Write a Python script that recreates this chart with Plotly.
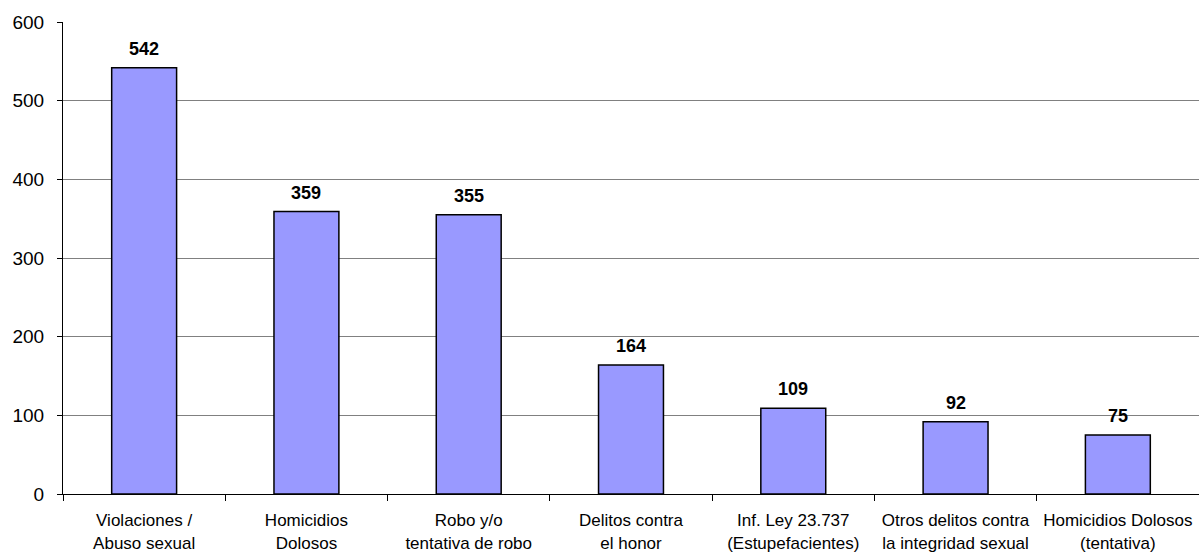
import plotly.graph_objects as go

categories = [
    "Violaciones /<br>Abuso sexual",
    "Homicidios<br>Dolosos",
    "Robo y/o<br>tentativa de robo",
    "Delitos contra<br>el honor",
    "Inf. Ley 23.737<br>(Estupefacientes)",
    "Otros delitos contra<br>la integridad sexual",
    "Homicidios Dolosos<br>(tentativa)",
]
values = [542, 359, 355, 164, 109, 92, 75]
y_ticks = [0, 100, 200, 300, 400, 500, 600]

FONT = "Liberation Sans, Arial, sans-serif"

fig = go.Figure()
fig.add_trace(go.Bar(
    x=categories,
    y=values,
    marker=dict(color="#9999FF", line=dict(color="#000000", width=1.5)),
    width=0.4,
    hoverinfo="skip",
))

for c, v in zip(categories, values):
    fig.add_annotation(
        x=c, y=v, text=f"<b>{v}</b>", showarrow=False,
        yanchor="bottom", yshift=7,
        font=dict(family=FONT, size=18, color="#000000"),
    )

fig.update_layout(
    width=1199, height=555,
    margin=dict(l=63, r=0, t=22, b=61, autoexpand=False),
    paper_bgcolor="#FFFFFF", plot_bgcolor="#FFFFFF",
    showlegend=False,
    font=dict(family=FONT, color="#000000"),
)
fig.update_xaxes(
    type="category",
    tickson="boundaries",
    ticks="outside", ticklen=6, tickcolor="#000000", tickwidth=1,
    showline=True, linecolor="#000000", linewidth=1,
    showgrid=False,
    tickangle=0,
    tickfont=dict(family=FONT, size=17, color="#000000"),
    ticklabelstandoff=11,
    automargin=False,
)
fig.update_yaxes(
    range=[0, 600],
    tickvals=y_ticks,
    ticks="outside", ticklen=5, tickcolor="#000000", tickwidth=1,
    showline=True, linecolor="#000000", linewidth=1,
    showgrid=True, gridcolor="#808080", gridwidth=1,
    zeroline=False,
    tickfont=dict(family=FONT, size=19, color="#000000"),
    ticklabelstandoff=9,
    automargin=False,
)

fig.write_html(
    "out.html",
    config={"displayModeBar": False},
    post_script="document.body.style.margin='0';document.body.style.overflow='hidden';",
)
